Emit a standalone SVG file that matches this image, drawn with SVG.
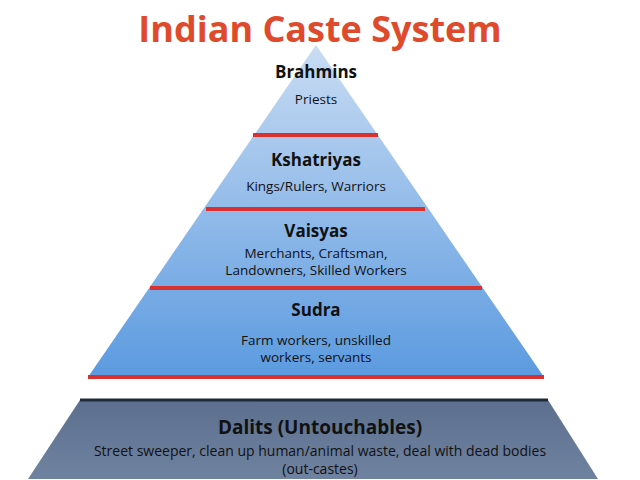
<svg xmlns="http://www.w3.org/2000/svg" width="640" height="480" viewBox="0 0 640 480">
<defs>
<linearGradient id="pg" x1="0" y1="0" x2="0" y2="1"><stop offset="0" stop-color="#c9dcf3"/><stop offset="1" stop-color="#5b9ae0"/></linearGradient>
<linearGradient id="dg" x1="0" y1="0" x2="0" y2="1"><stop offset="0" stop-color="#5c6f8e"/><stop offset="1" stop-color="#6f82a0"/></linearGradient>
<style>
text{font-family:"Open Sans","Liberation Sans",sans-serif;text-anchor:middle;fill:#111}
.h{font-weight:bold;font-size:17px}
.s{font-size:13.5px}
.r{stroke:#d8312f;stroke-width:4}
</style>
</defs>
<rect width="640" height="480" fill="#fff"/>
<text x="320" y="42" style="font-size:36px;font-weight:bold;fill:#e04a2c">Indian Caste System</text>
<polygon points="316,45 544,377 88,377" fill="url(#pg)"/>
<g id="connectors">
<line class="r" x1="253" y1="135" x2="378" y2="135"/>
<line class="r" x1="206" y1="209" x2="425" y2="209"/>
<line class="r" x1="150" y1="288" x2="482" y2="288"/>
<line class="r" x1="88" y1="377" x2="544" y2="377"/>
</g>
<g id="brahmins"><text class="h" x="316" y="78">Brahmins</text><text class="s" x="316" y="104">Priests</text></g>
<g id="kshatriyas"><text class="h" x="316" y="166">Kshatriyas</text><text class="s" x="316" y="191">Kings/Rulers, Warriors</text></g>
<g id="vaisyas"><text class="h" x="316" y="237">Vaisyas</text><text class="s" x="316" y="258">Merchants, Craftsman,</text><text class="s" x="316" y="275">Landowners, Skilled Workers</text></g>
<g id="sudra"><text class="h" x="316" y="316">Sudra</text><text class="s" x="316" y="345">Farm workers, unskilled</text><text class="s" x="316" y="362">workers, servants</text></g>
<g id="dalits">
<polygon points="80,400 548,400 598,479 28,479" fill="url(#dg)"/>
<line x1="80" y1="400" x2="548" y2="400" stroke="#1f2a3a" stroke-width="3"/>
<text class="h" x="320" y="434" style="font-size:19px">Dalits (Untouchables)</text>
<text class="s" x="320" y="456" style="font-size:14px">Street sweeper, clean up human/animal waste, deal with dead bodies</text>
<text class="s" x="320" y="474" style="font-size:14px">(out-castes)</text>
</g>
</svg>
